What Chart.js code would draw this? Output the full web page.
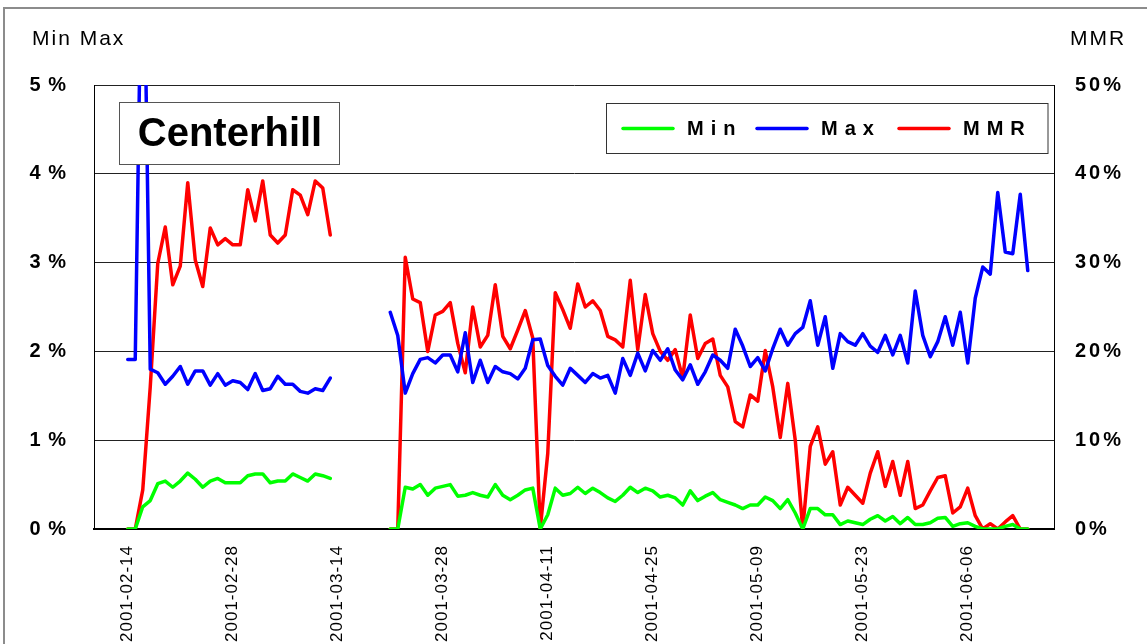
<!DOCTYPE html>
<html>
<head>
<meta charset="utf-8">
<script src="https://cdn.jsdelivr.net/npm/chart.js@4"></script>
<style>
  body { margin: 0; background: #fff; }
  #wrap { width: 1147px; height: 644px; }
</style>
</head>
<body>
<div id="wrap"><canvas id="chart" width="1147" height="644"></canvas></div>
<script>
// daily categories, 2001-02-10 .. 2001-06-17
const dates = [];
for (let d = new Date(Date.UTC(2001, 1, 10)); d <= new Date(Date.UTC(2001, 5, 17)); d.setUTCDate(d.getUTCDate() + 1)) {
  dates.push(d.toISOString().slice(0, 10));
}

const tickLabels = ["2001-02-14", "2001-02-28", "2001-03-14", "2001-03-28", "2001-04-11",
  "2001-04-25", "2001-05-09", "2001-05-23", "2001-06-06"];

const seriesNames = ["Min", "Max", "MMR"];
const seriesColors = ["#00ff00", "#0000ff", "#ff0000"];
const axisTitles = ["Min Max", "MMR"];
const chartTitle = "Centerhill";

// values in percent
const minVals = [
  null, null, null, null,
  0, 0, 0.25, 0.32, 0.51, 0.54, 0.47, 0.54, 0.63, 0.56, 0.47, 0.54, 0.57, 0.52,
  0.52, 0.52, 0.60, 0.62, 0.62, 0.52, 0.54, 0.54, 0.62, 0.58, 0.54, 0.62, 0.60, 0.57,
  null, null, null, null, null, null, null,
  0, 0, 0.47, 0.45, 0.50, 0.38, 0.46, 0.48, 0.50, 0.37, 0.38, 0.41, 0.38, 0.36,
  0.50, 0.38, 0.33, 0.38, 0.44, 0.46, 0, 0.16, 0.46, 0.38, 0.40, 0.47, 0.40, 0.46,
  0.41, 0.35, 0.31, 0.38, 0.47, 0.41, 0.46, 0.43, 0.36, 0.38, 0.35, 0.27, 0.43, 0.32, 0.37,
  0.41, 0.33, 0.30, 0.27, 0.23, 0.27, 0.27, 0.36, 0.32, 0.23, 0.33, 0.18, 0, 0.23,
  0.23, 0.16, 0.16, 0.05, 0.09, 0.07, 0.05, 0.11, 0.15, 0.09, 0.14, 0.06, 0.13, 0.05,
  0.05, 0.07, 0.12, 0.13, 0.03, 0.06, 0.07, 0.03, 0, 0, 0, 0.03, 0.05, 0, 0,
  null, null, null
];

const maxVals = [
  null, null, null, null,
  1.91, 1.91, 7.5, 1.80, 1.76, 1.63, 1.72, 1.83, 1.63, 1.78, 1.78, 1.62, 1.75, 1.62,
  1.67, 1.65, 1.57, 1.75, 1.56, 1.58, 1.72, 1.63, 1.63, 1.55, 1.53, 1.58, 1.56, 1.70,
  null, null, null, null, null, null, null,
  2.44, 2.18, 1.53, 1.75, 1.91, 1.93, 1.87, 1.96, 1.96, 1.77, 2.21, 1.65, 1.90, 1.65,
  1.83, 1.77, 1.75, 1.69, 1.81, 2.13, 2.14, 1.84, 1.72, 1.62, 1.81, 1.73, 1.65, 1.75,
  1.70, 1.73, 1.53, 1.92, 1.73, 1.98, 1.78, 2.01, 1.90, 2.03, 1.79, 1.68, 1.85, 1.63, 1.77,
  1.96, 1.90, 1.81, 2.25, 2.06, 1.83, 1.93, 1.78, 2.03, 2.25, 2.07, 2.20, 2.27, 2.57,
  2.07, 2.39, 1.81, 2.20, 2.11, 2.07, 2.20, 2.06, 1.99, 2.18, 1.96, 2.18, 1.87, 2.68,
  2.18, 1.94, 2.11, 2.39, 2.07, 2.44, 1.87, 2.60, 2.95, 2.87, 3.79, 3.12, 3.10, 3.77, 2.91,
  null, null, null
];

const mmrVals = [
  null, null, null, null,
  0, 0, 4.4, 16.0, 29.9, 34.0, 27.5, 29.6, 39.0, 30.3, 27.3, 33.9, 32.0, 32.7,
  32.0, 32.0, 38.2, 34.7, 39.2, 33.1, 32.2, 33.1, 38.2, 37.6, 35.4, 39.2, 38.4, 33.1,
  null, null, null, null, null, null, null,
  0, 0, 30.6, 25.9, 25.5, 20.0, 24.1, 24.5, 25.5, 20.9, 17.6, 25.0, 20.5, 21.8,
  27.5, 21.7, 20.3, 22.4, 24.6, 21.5, 0, 8.5, 26.6, 24.7, 22.6, 27.6, 25.0, 25.7,
  24.6, 21.7, 21.3, 20.5, 28.0, 20.2, 26.4, 22.0, 20.0, 19.0, 20.2, 17.0, 24.1, 19.2, 20.9,
  21.4, 17.3, 16.0, 12.1, 11.5, 15.1, 14.4, 20.1, 16.0, 10.3, 16.4, 10.0, 0, 9.3,
  11.5, 7.3, 8.7, 2.7, 4.7, 3.8, 2.9, 6.3, 8.7, 4.8, 7.6, 3.8, 7.6, 2.3,
  2.7, 4.3, 5.8, 6.0, 1.8, 2.5, 4.6, 1.5, 0, 0.6, 0, 0.8, 1.5, 0, 0,
  null, null, null
];

const FONT = '"Liberation Sans", Arial, sans-serif';

// canvas letterSpacing per scale (Excel-like spaced labels)
function spaceLabels(scale, px) {
  if (!scale || scale._spaced) return;
  const orig = scale.drawLabels.bind(scale);
  scale.drawLabels = function (area) {
    const c = this.ctx;
    const old = c.letterSpacing;
    c.letterSpacing = px;
    orig(area);
    c.letterSpacing = old || "0px";
  };
  scale._spaced = true;
}

const decor = {
  id: "decor",
  beforeDraw(chart) {
    spaceLabels(chart.scales.x, "1px");
    spaceLabels(chart.scales.y, "1px");
    spaceLabels(chart.scales.y1, "3px");
    const c = chart.ctx;
    c.save();
    c.fillStyle = "#fff";
    c.fillRect(0, 0, chart.width, chart.height);
    // outer frame (top + left visible)
    c.strokeStyle = "#8c8c8c";
    c.lineWidth = 2;
    c.beginPath();
    c.moveTo(4, chart.height + 2);
    c.lineTo(4, 8);
    c.lineTo(chart.width + 2, 8);
    c.stroke();
    c.restore();
  },
  afterDraw(chart) {
    const c = chart.ctx;
    const area = chart.chartArea;
    c.save();
    c.fillStyle = "#000";
    c.textBaseline = "middle";

    // axis titles
    c.font = "21px " + FONT;
    c.letterSpacing = "2px";
    c.textAlign = "left";
    c.fillText(axisTitles[0], 32, 39);
    c.fillText(axisTitles[1], 1070, 39);

    // title box
    c.letterSpacing = "0px";
    c.fillStyle = "#fff";
    c.fillRect(119.5, 102.5, 220, 62);
    c.strokeStyle = "#555";
    c.lineWidth = 1;
    c.strokeRect(119.5, 102.5, 220, 62);
    c.fillStyle = "#000";
    c.font = "bold 40px " + FONT;
    c.textAlign = "center";
    c.fillText(chartTitle, 230, 135);

    // legend box
    const lx = 606.5, ly = 103.5, lw = area.right - 6 - lx, lh = 50;
    c.fillStyle = "#fff";
    c.fillRect(lx, ly, lw, lh);
    c.strokeStyle = "#333";
    c.strokeRect(lx, ly, lw, lh);
    const itemX = [623, 757, 899];
    c.font = "bold 20px " + FONT;
    c.letterSpacing = "7px";
    c.textAlign = "left";
    chart.data.datasets.forEach((ds, i) => {
      const x = itemX[i], y = ly + lh / 2;
      c.strokeStyle = ds.borderColor;
      c.lineWidth = 3.5;
      c.lineCap = "round";
      c.beginPath();
      c.moveTo(x, y);
      c.lineTo(x + 50, y);
      c.stroke();
      c.fillStyle = "#000";
      c.fillText(ds.label, x + 64, y + 1);
    });
    c.restore();
  }
};

const ctx = document.getElementById("chart").getContext("2d");

const chart = new Chart(ctx, {
  type: "line",
  data: {
    labels: dates,
    datasets: [
      { label: seriesNames[0], data: minVals, borderColor: seriesColors[0], yAxisID: "y" },
      { label: seriesNames[1], data: maxVals, borderColor: seriesColors[1], yAxisID: "y" },
      { label: seriesNames[2], data: mmrVals, borderColor: seriesColors[2], yAxisID: "y1" },
    ],
  },
  options: {
    responsive: false,
    animation: false,
    layout: { padding: { top: 85, left: 0, right: 0, bottom: 0 } },
    elements: {
      point: { radius: 0 },
      line: { borderWidth: 3.5, tension: 0, borderJoinStyle: "round", borderCapStyle: "round" },
    },
    plugins: {
      legend: { display: false },
      tooltip: { enabled: false },
    },
    scales: {
      x: {
        type: "category",
        offset: true,
        grid: { display: false },
        border: { color: "#000", width: 2 },
        ticks: {
          autoSkip: false,
          minRotation: 90,
          maxRotation: 90,
          padding: 8,
          color: "#000",
          font: { family: FONT, size: 17 },
          callback: (v, i) => (tickLabels.includes(dates[i]) ? dates[i] : ""),
        },
        afterFit: (s) => { s.height = 115; },
      },
      y: {
        position: "left",
        min: 0,
        max: 5,
        grid: { color: "#222", lineWidth: 1, drawTicks: false },
        border: { color: "#000", width: 1 },
        ticks: {
          stepSize: 1,
          padding: 27,
          color: "#000",
          font: { family: FONT, size: 20, weight: "bold" },
          callback: (v) => v + " %",
        },
        afterFit: (s) => { s.width = 94; },
      },
      y1: {
        position: "right",
        min: 0,
        max: 50,
        grid: { display: false, drawTicks: false },
        border: { color: "#000", width: 1 },
        ticks: {
          stepSize: 10,
          padding: 21,
          color: "#000",
          font: { family: FONT, size: 20, weight: "bold" },
          callback: (v) => v + "%",
        },
        afterFit: (s) => { s.width = 93; },
      },
    },
  },
  plugins: [decor],
});
</script>
</body>
</html>
